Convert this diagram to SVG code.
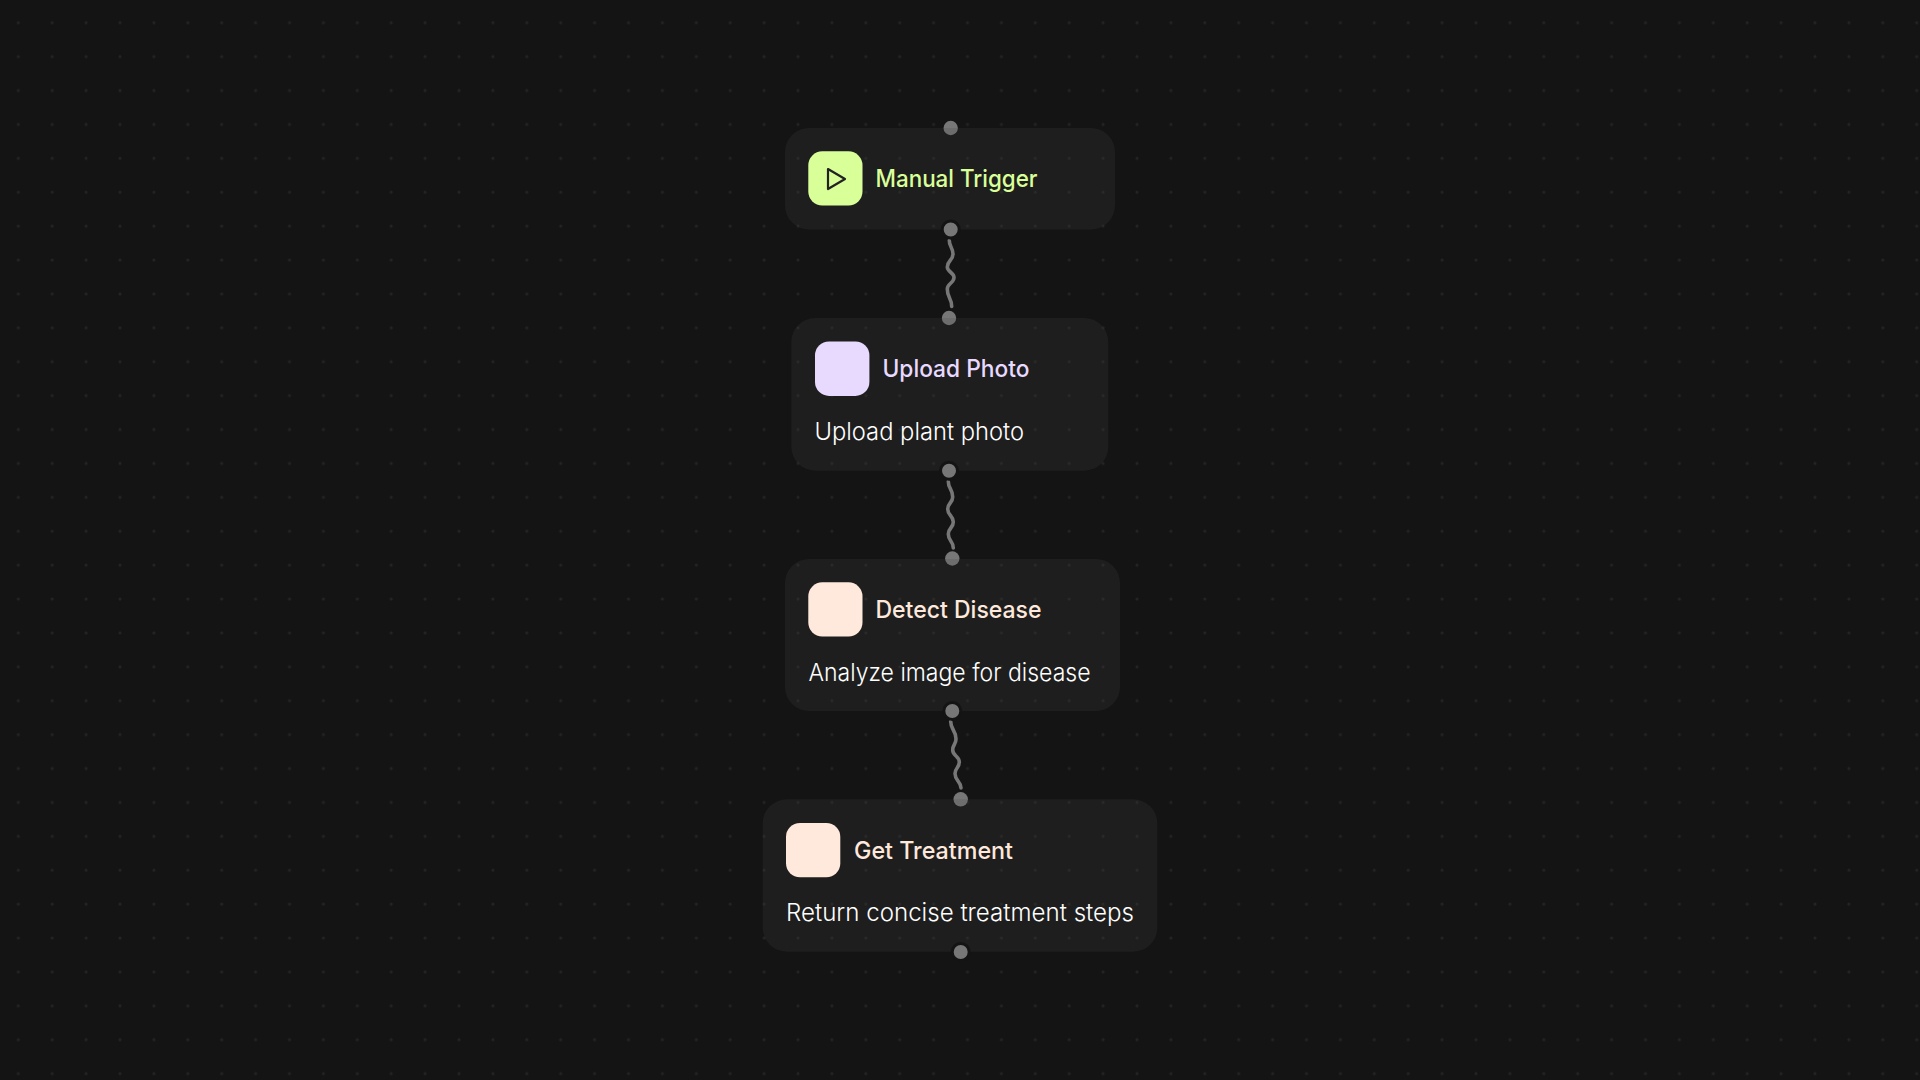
<svg xmlns="http://www.w3.org/2000/svg" width="1920" height="1080" viewBox="0 0 1920 1080">
<style>
.bg{fill:#141414}
.card{fill:#464646;fill-opacity:.2}
.icon{stroke:none}
.title{font-family:"Inter","Noto Sans",sans-serif;font-size:24px;font-weight:500}
.desc{font-family:"Inter","Noto Sans",sans-serif;font-size:24px;font-weight:350;fill:#fff}
.h{fill:#777}
.ring{stroke:#141414;stroke-width:3}
.wire{fill:none;stroke:#777;stroke-width:3.6;stroke-linecap:round}
</style>
<defs>
<pattern id="dots" patternUnits="userSpaceOnUse" x="1.35" y="5.75" width="33.9" height="33.9">
<circle cx="16.95" cy="16.95" r="1.5" fill="#242424"/>
</pattern>
</defs>
<rect class="bg" width="1920" height="1080"/>
<rect width="1920" height="1080" fill="url(#dots)"/>
<g id="connectors">
<path class="wire" d="M949.3 240.5C949.3 247 953 247.5 953 254C953 260.5 947.3 260.5 947.3 267C947.3 272 954 272.5 954 277.5C954 283 947.3 283.5 947.3 289C947.3 298 951.7 298 951.7 306.5"/>
<path class="wire" d="M948.3 481.5C948.3 489 952.7 489 952.7 497C952.7 503 947.7 503 947.7 509C947.7 515.5 953.3 515.5 953.3 522C953.3 528 948.3 528 948.3 534C948.3 541 953.3 541 953.3 548"/>
<path class="wire" d="M950.7 721.5C950.7 730 956 730 956 739C956 744.5 952.7 744.5 952.7 750C952.7 756 959.3 756 959.3 762C959.3 768 955 768 955 773.5C955 781 961 781 961 788"/>
</g>
<g id="node-manual-trigger">
<circle class="h" cx="950.7" cy="128" r="7.2"/>
<rect class="card" x="785" y="128" width="330" height="101.5" rx="24"/>
<rect class="icon" x="808.3" y="151.3" width="54.2" height="54.2" rx="14" fill="#d9ff99"/>
<polygon points="828,169 845,179 828,189" fill="none" stroke="#222" stroke-width="2.2" stroke-linejoin="round"/>
<text class="title" x="875.5" y="187.3" fill="#d9ff99" textLength="162" lengthAdjust="spacingAndGlyphs">Manual Trigger</text>
<circle class="h ring" cx="950.7" cy="229.5" r="8.5"/>
</g>
<g id="node-upload-photo">
<circle class="h" cx="949" cy="318" r="7.2"/>
<rect class="card" x="791.3" y="318" width="317" height="152.7" rx="24"/>
<rect class="icon" x="815" y="341.5" width="54.4" height="54.4" rx="14" fill="#e8d9ff"/>
<text class="title" x="882.5" y="376.7" fill="#e8d9ff" textLength="147" lengthAdjust="spacingAndGlyphs">Upload Photo</text>
<text class="desc" x="814.5" y="440" textLength="209.5" lengthAdjust="spacingAndGlyphs">Upload plant photo</text>
<circle class="h ring" cx="949" cy="470.7" r="8.5"/>
</g>
<g id="node-detect-disease">
<circle class="h" cx="952.3" cy="558.5" r="7.2"/>
<rect class="card" x="785" y="559" width="335" height="152" rx="24"/>
<rect class="icon" x="808.3" y="582.3" width="54.2" height="54.2" rx="14" fill="#ffe8dc"/>
<text class="title" x="875.5" y="617.7" fill="#ffe8dc" textLength="166" lengthAdjust="spacingAndGlyphs">Detect Disease</text>
<text class="desc" x="808.5" y="680.7" textLength="282" lengthAdjust="spacingAndGlyphs">Analyze image for disease</text>
<circle class="h ring" cx="952.3" cy="711" r="8.5"/>
</g>
<g id="node-get-treatment">
<circle class="h" cx="960.7" cy="799.3" r="7.2"/>
<rect class="card" x="762.7" y="799.3" width="394.6" height="152.4" rx="24"/>
<rect class="icon" x="786" y="823" width="54.3" height="54.3" rx="14" fill="#ffe8dc"/>
<text class="title" x="854" y="858.7" fill="#ffe8dc" textLength="159" lengthAdjust="spacingAndGlyphs">Get Treatment</text>
<text class="desc" x="786" y="920.7" textLength="348" lengthAdjust="spacingAndGlyphs">Return concise treatment steps</text>
<circle class="h ring" cx="960.7" cy="952" r="8.5"/>
</g>
</svg>
